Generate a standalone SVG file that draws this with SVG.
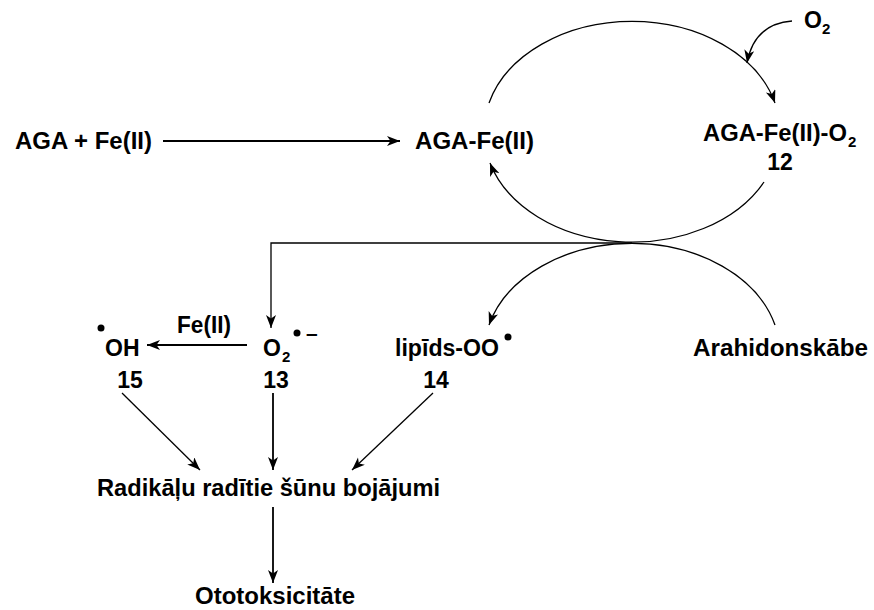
<svg xmlns="http://www.w3.org/2000/svg" width="874" height="610" viewBox="0 0 874 610">
<style>
text{font-family:"Liberation Sans",Arial,Helvetica,sans-serif;font-weight:bold;font-size:23px;fill:#000}
.sub{font-size:15px}
.c{text-anchor:middle}
.ln{fill:none;stroke:#000;stroke-width:1.8}
.arc{fill:none;stroke:#000;stroke-width:1.3}
</style>
<defs>
<marker id="ah" markerUnits="userSpaceOnUse" markerWidth="16" markerHeight="12" refX="13" refY="5" orient="auto">
<path d="M0,0 L13,5 L0,10 L3.5,5 Z" fill="#000"/>
</marker>
</defs>
<rect width="874" height="610" fill="#fff"/>
<g id="connectors">
<path class="ln" d="M163,141 H400" marker-end="url(#ah)"/>
<path class="arc" d="M489,103 A148,110 0 0 1 775,103" marker-end="url(#ah)"/>
<path class="arc" d="M764,182 A148,110 0 0 1 490,163" marker-end="url(#ah)"/>
<path class="arc" d="M792,21 Q754,24 747,63" marker-end="url(#ah)"/>
<path class="arc" d="M775,325 A148,110 0 0 0 489,325" marker-end="url(#ah)"/>
<path class="arc" d="M632,243 H271 V328" marker-end="url(#ah)"/>
<path class="ln" d="M247,345 H147" marker-end="url(#ah)"/>
<path class="arc" d="M122,393 L200,470" marker-end="url(#ah)"/>
<path class="ln" d="M273,393 V470" marker-end="url(#ah)"/>
<path class="arc" d="M433,393 L352,470" marker-end="url(#ah)"/>
<path class="ln" d="M273,507 V583" marker-end="url(#ah)"/>
</g>
<g id="aga-fe-start"><text x="15" y="149" textLength="137" lengthAdjust="spacingAndGlyphs">AGA + Fe(II)</text></g>
<g id="aga-fe"><text x="415" y="149" textLength="119" lengthAdjust="spacingAndGlyphs">AGA-Fe(II)</text></g>
<g id="aga-fe-o2"><text x="703" y="141" textLength="144" lengthAdjust="spacingAndGlyphs">AGA-Fe(II)-O</text><text class="sub" x="848" y="147">2</text><text class="c" x="780" y="170">12</text></g>
<g id="o2"><text x="804" y="28">O</text><text class="sub" x="822" y="34">2</text></g>
<g id="arahidonskabe"><text x="693" y="356" textLength="175" lengthAdjust="spacingAndGlyphs">Arahidonskābe</text></g>
<g id="lipids-oo"><text x="395" y="356" textLength="104" lengthAdjust="spacingAndGlyphs">lipīds-OO</text><circle cx="508" cy="337" r="3.5"/><text class="c" x="436" y="388">14</text></g>
<g id="superoxide"><text x="263" y="356">O</text><text class="sub" x="282" y="362">2</text><circle cx="297" cy="333" r="3.5"/><text x="306" y="340" style="font-size:21px">–</text><text class="c" x="276" y="388">13</text></g>
<g id="hydroxyl"><circle cx="101" cy="328" r="3.5"/><text x="105" y="356">OH</text><text class="c" x="130" y="388">15</text></g>
<g id="fe-label"><text x="177" y="333" textLength="54" lengthAdjust="spacingAndGlyphs">Fe(II)</text></g>
<g id="radikalu"><text x="97" y="496" textLength="343" lengthAdjust="spacingAndGlyphs">Radikāļu radītie šūnu bojājumi</text></g>
<g id="ototoksicitate"><text x="195" y="604" textLength="160" lengthAdjust="spacingAndGlyphs">Ototoksicitāte</text></g>
</svg>
